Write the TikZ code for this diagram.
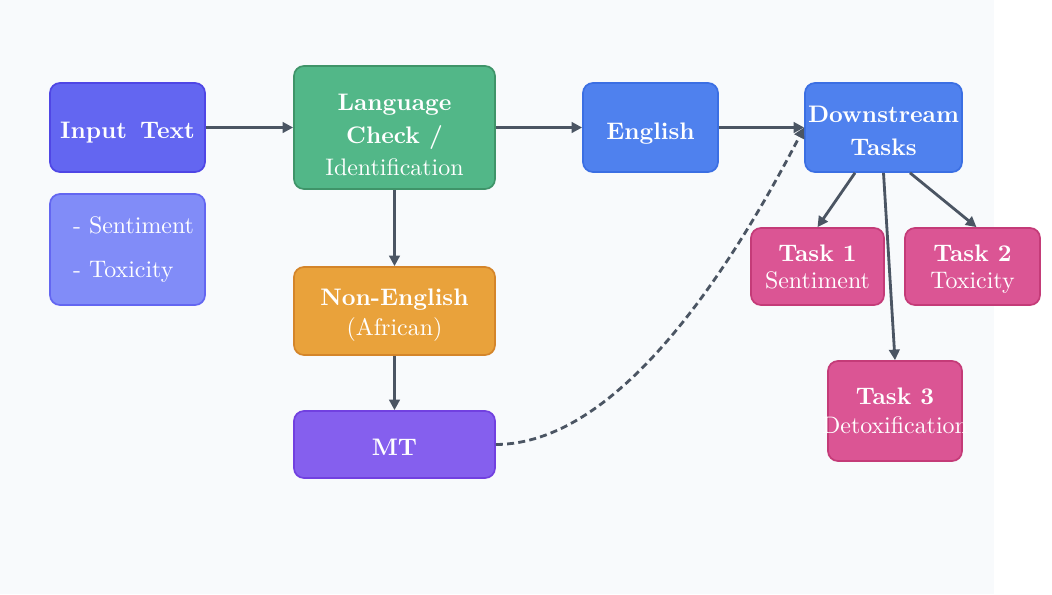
\documentclass[tikz,border=0pt]{standalone}
\usepackage{fontspec}
\setmainfont{lmroman10-regular}[Extension=.otf,BoldFont=lmroman10-bold]
\usetikzlibrary{arrows.meta}
\definecolor{bgc}{HTML}{F8FAFC}
\definecolor{indi}{HTML}{6366F1}\definecolor{indid}{HTML}{4F46E5}
\definecolor{indl}{HTML}{818CF8}
\definecolor{grn}{HTML}{52B788}\definecolor{grnd}{HTML}{3F9469}
\definecolor{blu}{HTML}{4F81EE}\definecolor{blud}{HTML}{3B6FE3}
\definecolor{org}{HTML}{E9A23B}\definecolor{orgd}{HTML}{D4852A}
\definecolor{prp}{HTML}{855FEE}\definecolor{prpd}{HTML}{7140E0}
\definecolor{pnk}{HTML}{DB5594}\definecolor{pnkd}{HTML}{C43B78}
\definecolor{arrc}{HTML}{4B5563}
\begin{document}
\begin{tikzpicture}[x=.025cm,y=-.025cm,
box/.style={draw,rounded corners=.25cm,line width=1.2pt,inner sep=0pt},
txt/.style={text=white,align=center,inner sep=0pt,font=\fontsize{17}{#1}\selectfont},txt/.default=23,
arr/.style={draw=arrc,line width=2pt,-{Triangle[length=7.5pt,width=7.5pt]}}]
\fill[bgc] (0,0) rectangle (994,594);
\useasboundingbox (0,0) rectangle (1052,594);
% left column
\node[box,fill=indi,draw=indid,minimum width=3.875cm,minimum height=2.225cm,label={[txt,yshift=-3.8pt]center:\bfseries Input~\,Text}] (inp) at (127.5,127.5) {};
\node[box,fill=indl,draw=indi,minimum width=3.875cm,minimum height=2.775cm,label={[txt=31,align=left,xshift=4.3pt]center:{- Sentiment\\- Toxicity}}] (lst) at (127.5,249.5) {};
% middle column
\node[box,fill=grn,draw=grnd,minimum width=5.025cm,minimum height=3.075cm,label={[txt=23.1,yshift=-5.3pt]center:{\textbf{Language}\\\textbf{Check /}\\Identification}}] (lang) at (394.5,127.5) {};
\node[box,fill=org,draw=orgd,minimum width=5.025cm,minimum height=2.2cm,label={[txt=21.3,yshift=-3.2pt]center:{\textbf{Non-English}\\(African)}}] (non) at (394.5,311) {};
\node[box,fill=prp,draw=prpd,minimum width=5.025cm,minimum height=1.675cm,label={[txt,yshift=-1.8pt]center:\bfseries MT}] (mt) at (394.5,444.5) {};
% right side
\node[box,fill=blu,draw=blud,minimum width=3.375cm,minimum height=2.225cm,label={[txt,yshift=-4.1pt]center:\bfseries English}] (eng) at (650.5,127.5) {};
\node[box,fill=blu,draw=blud,minimum width=3.925cm,minimum height=2.225cm,label={[txt=23.4,yshift=-2.1pt]center:{\textbf{Downstream}\\\textbf{Tasks}}}] (down) at (883.5,127.5) {};
\foreach \nm/\x/\y/\w/\h/\num/\txt/\bs/\dy in {t1/817.5/266.5/3.325/1.925/1/Sentiment/19.2/0,t2/972.5/266.5/3.375/1.925/2/Toxicity/19.2/-1.65,t3/895/411/3.35/2.5/3/Detoxification/20.6/0}{
\node[box,fill=pnk,draw=pnkd,minimum width=\w cm,minimum height=\h cm,label={[txt=\bs,yshift=\dy pt]center:{\textbf{Task \num}\\\txt}}] (\nm) at (\x,\y) {};}
% connectors
\draw[arr] (inp) -- (lang);
\draw[arr] (lang) -- (eng);
\draw[arr] (eng) -- (down);
\draw[arr] (lang) -- (non);
\draw[arr] (non) -- (mt);
\draw[arr,dash pattern=on 5pt off 3pt] (mt.east) .. controls (615,444) and (725,280) .. (down.west);
\draw[arr] ([xshift=-.7125cm]down.south) -- (t1.north);
\draw[arr] ([xshift=.6625cm]down.south) -- ([xshift=.1cm]t2.north);
\draw[arr] (down.south) -- (t3.north);
\end{tikzpicture}
\end{document}
